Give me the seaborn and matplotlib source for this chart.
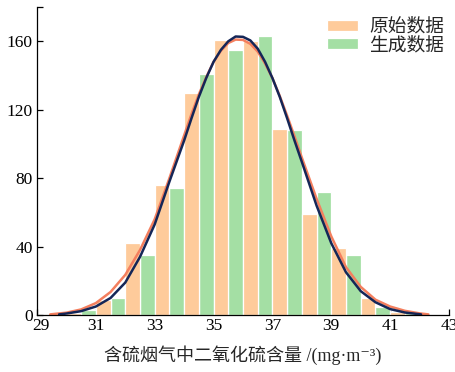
import numpy as np
import pandas as pd
import matplotlib
matplotlib.use("Agg")
import matplotlib.pyplot as plt
import matplotlib.transforms as mtransforms
import seaborn as sns

# ---- data ----
bin_left = [29, 30, 31, 32, 33, 34, 35, 36, 37, 38, 39, 40, 41, 42]
orig_counts = [0, 1, 9, 42, 76, 130, 161, 160, 109, 59, 39, 10, 2, 0]
gen_counts = [0, 3, 10, 35, 74, 141, 155, 163, 108, 72, 35, 5, 1, 0]
series_names = ["原始数据", "生成数据"]

orig_curve_x = [29.45, 29.5, 30, 30.5, 31, 31.5, 32, 32.5, 33, 33.5, 34, 34.25, 34.5, 34.75,
                35, 35.25, 35.5, 35.75, 36, 36.25, 36.5, 36.75, 37, 37.25, 37.5, 37.75,
                38, 38.5, 39, 39.5, 40, 40.5, 41, 41.5, 42, 42.3]
orig_curve_y = [0.4, 0.5, 1.4, 3.3, 7, 13.5, 23.5, 38, 56, 80, 105, 117.5, 129, 139,
                148, 154.5, 159, 161, 160.8, 158.5, 154, 147, 138.5, 128, 116.5, 104.5,
                92, 68, 46, 28, 16.5, 9, 5, 2.5, 1, 0.4]

gen_curve_x = [29.75, 30, 30.5, 31, 31.5, 32, 32.5, 33, 33.5, 34, 34.25, 34.5, 34.75, 35,
               35.25, 35.5, 35.75, 36, 36.25, 36.5, 36.75, 37, 37.25, 37.5, 37.75, 38,
               38.5, 39, 39.5, 40, 40.5, 41, 41.5, 42, 42.05]
gen_curve_y = [0.4, 0.9, 2.3, 5, 10, 19, 34, 53, 78, 102, 115, 127.5, 138.5, 148,
               155, 160, 162.8, 162.6, 160.5, 155.7, 148, 138.5, 127.5, 115, 102, 89.5,
               64, 42, 25, 14, 7.5, 3.5, 1.5, 0.5, 0.4]

x_ticks = [29, 31, 33, 35, 37, 39, 41, 43]
y_ticks = [0, 40, 80, 120, 160]
xlabel = "含硫烟气中二氧化硫含量 /(mg·m⁻³)"

# ---- styling ----
sns.set_theme(style="ticks")
plt.rcParams["font.family"] = ["Liberation Serif", "Noto Sans CJK SC", "DejaVu Sans"]

bar_colors = {"原始数据": "#FECB9B", "生成数据": "#A4DFA4"}
line_orig = "#F47F5E"
line_gen = "#152657"

df = pd.DataFrame({
    "value": [b + 0.5 for b in bin_left] * 2,
    "count": orig_counts + gen_counts,
    "series": [series_names[0]] * len(bin_left) + [series_names[1]] * len(bin_left),
})

fig = plt.figure(figsize=(4.55, 3.72), dpi=100)
ax = fig.add_axes([0.0813, 0.153, 0.9055, 0.828])

sns.histplot(data=df, x="value", weights="count", hue="series",
             hue_order=series_names, palette=bar_colors,
             binwidth=1, binrange=(29, 43), multiple="dodge", shrink=1.0,
             alpha=1.0, edgecolor="white", linewidth=0.9, ax=ax)

sns.lineplot(x=orig_curve_x, y=orig_curve_y, color=line_orig, linewidth=1.8, ax=ax)
sns.lineplot(x=gen_curve_x, y=gen_curve_y, color=line_gen, linewidth=1.8, ax=ax)

ax.set_xlim(29, 43)
ax.set_ylim(0, 180)
ax.set_xticks(x_ticks)
ax.set_yticks(y_ticks)
ax.set_yticks([180], minor=True)
ax.tick_params(axis="both", which="both", direction="in", length=4, width=0.9,
               labelsize=12.5, colors="black")
ax.tick_params(axis="x", pad=2)
ax.tick_params(axis="y", pad=3)
for s in ["top", "right"]:
    ax.spines[s].set_visible(False)
for s in ["left", "bottom"]:
    ax.spines[s].set_linewidth(0.9)
    ax.spines[s].set_color("black")

# nudge the first x tick label right so it clears the "0" label
first_lbl = ax.get_xticklabels()[0]
first_lbl.set_transform(first_lbl.get_transform() +
                        mtransforms.ScaledTranslation(4 / 100, 0, fig.dpi_scale_trans))

ax.set_ylabel("")
ax.set_xlabel(xlabel, fontsize=13, labelpad=8)

sns.move_legend(ax, "upper right", bbox_to_anchor=(1.015, 1.0), title=None,
                frameon=False, fontsize=13.5, handlelength=1.65, handleheight=0.55,
                handletextpad=0.6, labelspacing=0.05, borderaxespad=0.2)

fig.savefig("out.png", dpi=100)
